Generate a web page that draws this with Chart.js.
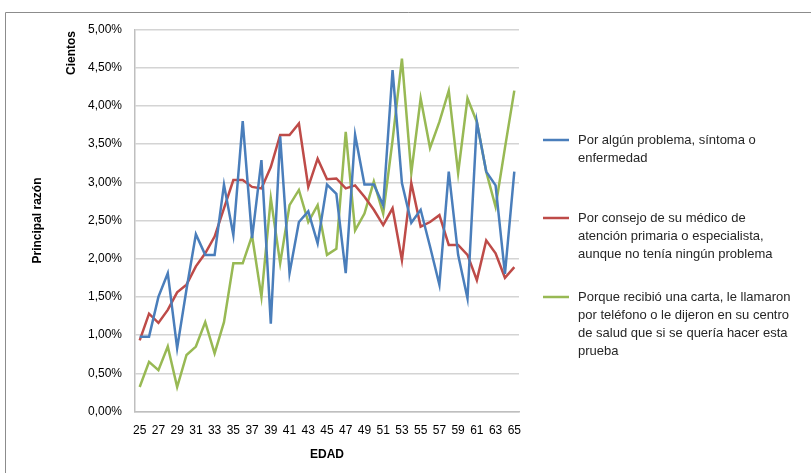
<!DOCTYPE html>
<html>
<head>
<meta charset="utf-8">
<script src="https://cdn.jsdelivr.net/npm/chart.js@4"></script>
<style>
  html, body { margin: 0; padding: 0; background: #fff; }
  #wrap { position: relative; width: 811px; height: 473px; }
</style>
</head>
<body>
<div id="wrap"><canvas id="grafico" width="811" height="473"></canvas></div>
<script>
const edades = [];
for (let e = 25; e <= 65; e++) edades.push(String(e));

const porProblema = [0.98, 0.98, 1.50, 1.81, 0.83, 1.60, 2.32, 2.05, 2.05, 2.97,
  2.31, 3.80, 2.27, 3.29, 1.15, 3.60, 1.81, 2.48, 2.62, 2.20,
  2.97, 2.85, 1.81, 3.62, 2.97, 2.97, 2.70, 4.47, 2.99, 2.47,
  2.64, 2.16, 1.66, 3.14, 2.05, 1.48, 3.79, 3.14, 2.96, 1.80, 3.14];

const porConsejo = [0.93, 1.28, 1.16, 1.33, 1.56, 1.66, 1.90, 2.07, 2.29, 2.66,
  3.03, 3.03, 2.94, 2.92, 3.20, 3.62, 3.62, 3.77, 2.94, 3.31,
  3.04, 3.05, 2.92, 2.96, 2.81, 2.64, 2.44, 2.66, 1.98, 2.99,
  2.42, 2.48, 2.57, 2.18, 2.18, 2.05, 1.72, 2.24, 2.07, 1.75, 1.89];

const porCarta = [0.32, 0.65, 0.54, 0.85, 0.32, 0.74, 0.85, 1.17, 0.76, 1.17,
  1.94, 1.94, 2.30, 1.50, 2.79, 1.94, 2.70, 2.90, 2.48, 2.70,
  2.05, 2.13, 3.66, 2.37, 2.59, 3.01, 2.59, 3.55, 4.62, 3.12,
  4.10, 3.45, 3.79, 4.20, 3.12, 4.10, 3.79, 3.14, 2.68, 3.45, 4.20];

// leyenda partida en lineas como en el original
const leyendas = [
  ["Por algún problema, síntoma o", "enfermedad"],
  ["Por consejo de su médico de", "atención primaria o especialista,", "aunque no tenía ningún problema"],
  ["Porque recibió una carta, le llamaron", "por teléfono o le dijeron en su centro", "de salud que si se quería hacer esta", "prueba"]
];
const colores = ["#4a7ebb", "#be4b48", "#98b954"];
const FUENTE = "'Liberation Sans', Arial, sans-serif";

const marco = {
  id: "marco",
  beforeDraw(chart) {
    const c = chart.ctx;
    c.save();
    c.strokeStyle = "#8c8c8c";
    c.lineWidth = 1;
    c.beginPath();
    c.moveTo(5.5, 473);
    c.lineTo(5.5, 12.5);
    c.lineTo(811, 12.5);
    c.stroke();
    c.restore();
  },
  afterDraw(chart) {
    const c = chart.ctx;
    c.save();
    // "Cientos" (unidad de presentacion)
    c.translate(72, 53);
    c.rotate(-Math.PI / 2);
    c.font = "bold 12px " + FUENTE;
    c.fillStyle = "#000";
    c.textAlign = "center";
    c.textBaseline = "middle";
    c.fillText("Cientos", 0, 0);
    c.restore();

    // leyenda a la derecha
    const tops = [140, 218, 297];
    c.save();
    c.font = "13px " + FUENTE;
    c.textBaseline = "middle";
    c.fillStyle = "#262626";
    chart.data.datasets.forEach((ds, i) => {
      const y0 = tops[i];
      c.strokeStyle = ds.borderColor;
      c.lineWidth = 2.5;
      c.beginPath();
      c.moveTo(543, y0);
      c.lineTo(569, y0);
      c.stroke();
      ds.label.forEach((linea, k) => {
        c.fillText(linea, 578, y0 + k * 18);
      });
    });
    c.restore();
  }
};

const ctx = document.getElementById("grafico").getContext("2d");
new Chart(ctx, {
  type: "line",
  data: {
    labels: edades,
    datasets: [porProblema, porConsejo, porCarta].map((serie, i) => ({
      label: leyendas[i],
      data: serie,
      borderColor: colores[i],
      backgroundColor: colores[i],
      borderWidth: 2.5,
      pointRadius: 0,
      tension: 0
    }))
  },
  options: {
    responsive: false,
    animation: false,
    layout: { padding: { left: 30, top: 29.5, right: 292, bottom: 11 } },
    plugins: {
      legend: { display: false },
      tooltip: { enabled: false }
    },
    scales: {
      x: {
        offset: true,
        grid: { display: false, drawTicks: false },
        border: { color: "#bfbfbf", width: 1.5 },
        ticks: {
          autoSkip: false,
          maxRotation: 0,
          padding: 12,
          color: "#000",
          font: { family: FUENTE, size: 12 },
          callback: function (v, i) { return i % 2 === 0 ? this.getLabelForValue(v) : ""; }
        },
        title: {
          display: true,
          text: "EDAD",
          color: "#000",
          font: { family: FUENTE, size: 12, weight: "bold" },
          padding: { top: 0, bottom: 0 }
        },
        afterFit(s) { s.height = 50.5; }
      },
      y: {
        min: 0,
        max: 5,
        grid: { color: "#d4d4d4", lineWidth: 1.5, drawTicks: false },
        border: { color: "#bfbfbf", width: 1.5 },
        ticks: {
          stepSize: 0.5,
          padding: 13,
          color: "#000",
          font: { family: FUENTE, size: 12 },
          callback: v => v.toFixed(2).replace(".", ",") + "%"
        },
        title: {
          display: true,
          text: "Principal razón",
          color: "#000",
          font: { family: FUENTE, size: 12, weight: "bold" },
          padding: 0
        },
        afterFit(s) { s.width = 105; }
      }
    }
  },
  plugins: [marco]
});
</script>
</body>
</html>
